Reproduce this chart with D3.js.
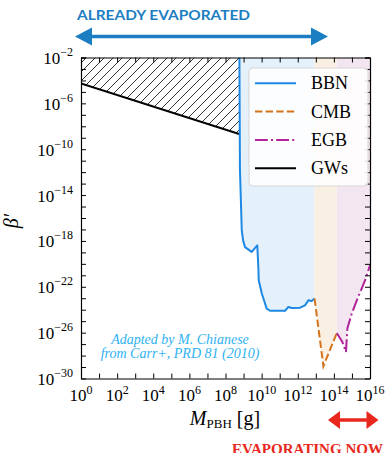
<!DOCTYPE html>
<html>
<head>
<meta charset="utf-8">
<script src="https://cdn.jsdelivr.net/npm/d3@7"></script>
<style>
  body { margin: 0; background: #fff; }
  svg { display: block; }
</style>
</head>
<body>
<svg id="chart" width="387" height="453"></svg>
<script>
// constraint curves, stored as log10 values
const bbnLogM    = [8.77, 8.80, 8.90, 8.97, 9.08, 9.45, 9.76, 9.82, 9.84, 10.01, 10.28, 10.47, 11.02, 11.30, 11.48, 11.67, 12.13, 12.40, 12.59, 12.77, 12.93];
const bbnLogBeta = [-2, -11.8, -17.05, -17.93, -18.54, -18.96, -18.38, -20.39, -21.43, -22.59, -23.90, -24.09, -24.08, -24.09, -23.76, -23.85, -23.82, -23.62, -23.18, -23.24, -23.03];

const cmbLogM    = [12.93, 13.42, 14.16];
const cmbLogBeta = [-23.03, -28.93, -26.03];

const egbLogM    = [14.16, 14.47, 14.67, 14.75, 14.99, 15.27, 15.73, 16.0];
const egbLogBeta = [-26.03, -26.82, -27.69, -25.62, -24.34, -23.18, -21.43, -20.12];

const gwLogM    = [0, 8.80];
const gwLogBeta = [-4.27, -8.69];

const xTickExp = d3.range(0, 17);          // tick every decade
const xLabelExp = d3.range(0, 17, 2);
const yTickExp = d3.range(-30, -1);
const yLabelExp = [-2, -6, -10, -14, -18, -22, -26, -30];

const legendNames = ['BBN', 'CMB', 'EGB', 'GWs'];

const serif = '"Liberation Serif", "Times New Roman", serif';
const colBBN = '#1e88e5', colCMB = '#d4731b', colEGB = '#b0239a';

const svg = d3.select('#chart');
const pL = 81, pT = 57.5, pR = 370, pB = 378.5;

const x = d3.scaleLog().domain([1, 1e16]).range([pL, pR]);
const y = d3.scaleLog().domain([1e-30, 1e-2]).range([pB, pT]);

const pts = (ms, bs) => ms.map((m, i) => [10 ** m, 10 ** bs[i]]);
const bbn = pts(bbnLogM, bbnLogBeta);
const cmb = pts(cmbLogM, cmbLogBeta);
const egb = pts(egbLogM, egbLogBeta);
const gw = pts(gwLogM, gwLogBeta);

const line = d3.line().x(d => x(d[0])).y(d => y(d[1]));
const areaAbove = d3.area().x(d => x(d[0])).y0(y(1e-2)).y1(d => y(d[1]));

// hatch pattern
const defs = svg.append('defs');
const pat = defs.append('pattern')
  .attr('id', 'hatch')
  .attr('patternUnits', 'userSpaceOnUse')
  .attr('width', 9).attr('height', 9);
pat.append('path')
  .attr('d', 'M0,9 L9,0 M-2,2 L2,-2 M7,11 L11,7')
  .attr('stroke', '#000').attr('stroke-width', 0.8);

defs.append('clipPath').attr('id', 'plotclip')
  .append('rect').attr('x', pL).attr('y', pT)
  .attr('width', pR - pL).attr('height', pB - pT);

const plot = svg.append('g').attr('clip-path', 'url(#plotclip)');

// shaded excluded regions
plot.append('path').datum(bbn).attr('d', areaAbove).attr('fill', '#e4f1fb');
plot.append('path').datum(cmb).attr('d', areaAbove).attr('fill', '#f9efe3');
plot.append('path').datum(egb).attr('d', areaAbove).attr('fill', '#f4e6f1');

// hatched GW region
const hatchPoly = [[gw[0][0], 1e-2], [bbn[0][0], 1e-2], gw[1], gw[0]];
plot.append('path').datum(hatchPoly)
  .attr('d', d3.line().x(d => x(d[0])).y(d => y(d[1])).curve(d3.curveLinearClosed))
  .attr('fill', 'url(#hatch)');

plot.append('path').datum(gw).attr('d', line)
  .attr('fill', 'none').attr('stroke', '#000').attr('stroke-width', 2);
plot.append('path').datum(bbn).attr('d', line)
  .attr('fill', 'none').attr('stroke', colBBN).attr('stroke-width', 2).attr('stroke-linejoin', 'round');
plot.append('path').datum(cmb).attr('d', line)
  .attr('fill', 'none').attr('stroke', colCMB).attr('stroke-width', 2).attr('stroke-dasharray', '7.4,3.2');
plot.append('path').datum(egb).attr('d', line)
  .attr('fill', 'none').attr('stroke', colEGB).attr('stroke-width', 2).attr('stroke-dasharray', '12.8,3.2,2,3.2');

// annotation
const note = svg.append('text')
  .attr('font-family', serif).attr('font-style', 'italic').attr('font-size', 14)
  .attr('fill', '#2eb2f2').attr('text-anchor', 'middle');
note.append('tspan').attr('x', 180).attr('y', 344).text('Adapted by M. Chianese');
note.append('tspan').attr('x', 180).attr('y', 358).text('from Carr+, PRD 81 (2010)');

// axes, ticks inward on all four sides
const styleAxis = g => {
  g.select('.domain').attr('stroke', '#000').attr('stroke-width', 1.2);
  g.selectAll('.tick line').attr('stroke', '#000').attr('stroke-width', 1);
  g.selectAll('.tick text').remove();
};
const xVals = xTickExp.map(e => 10 ** e);
const yVals = yTickExp.map(e => 10 ** e).concat([1e-2]);

svg.append('g').attr('transform', `translate(0,${pB})`)
  .call(d3.axisBottom(x).tickValues(xVals).tickSizeInner(-5).tickSizeOuter(0))
  .call(styleAxis);
svg.append('g').attr('transform', `translate(0,${pT})`)
  .call(d3.axisTop(x).tickValues(xVals).tickSizeInner(-5).tickSizeOuter(0))
  .call(styleAxis);
svg.append('g').attr('transform', `translate(${pL},0)`)
  .call(d3.axisLeft(y).tickValues(yVals).tickSizeInner(-5).tickSizeOuter(0))
  .call(styleAxis);
svg.append('g').attr('transform', `translate(${pR},0)`)
  .call(d3.axisRight(y).tickValues(yVals).tickSizeInner(-5).tickSizeOuter(0))
  .call(styleAxis);

// tick labels 10^n
const pow10 = (sel, e, supDy) => {
  sel.append('tspan').text('10');
  sel.append('tspan').attr('font-size', 12).attr('dy', supDy)
    .text(e < 0 ? '\u2212' + (-e) : e);
};
xLabelExp.forEach(e => {
  const t = svg.append('text').attr('font-family', serif).attr('font-size', 17)
    .attr('text-anchor', 'middle').attr('x', x(10 ** e)).attr('y', 401);
  pow10(t, e, -7);
});
yLabelExp.forEach(e => {
  const t = svg.append('text').attr('font-family', serif).attr('font-size', 17)
    .attr('text-anchor', 'end').attr('x', 73).attr('y', y(10 ** e) + 6.5);
  pow10(t, e, -8);
});

// axis titles
const xt = svg.append('text').attr('font-family', serif).attr('font-size', 20)
  .attr('text-anchor', 'middle').attr('x', 225).attr('y', 425);
xt.append('tspan').attr('font-style', 'italic').text('M');
xt.append('tspan').attr('font-size', 13).attr('dy', 3).text('PBH');
xt.append('tspan').attr('dy', -3).text(' [g]');

svg.append('text').attr('font-family', serif).attr('font-size', 20).attr('font-style', 'italic')
  .attr('text-anchor', 'middle')
  .attr('transform', 'translate(18,221) rotate(-90)')
  .text('\u03b2\u2032');

// legend
const lg = svg.append('g');
lg.append('rect').attr('x', 249).attr('y', 68).attr('width', 119).attr('height', 118)
  .attr('rx', 4).attr('fill', '#fff').attr('fill-opacity', 0.85)
  .attr('stroke', '#d6d6d6').attr('stroke-width', 1);
const legStyle = [
  { c: colBBN, dash: null },
  { c: colCMB, dash: '7.4,3.2' },
  { c: colEGB, dash: '12.8,3.2,2,3.2' },
  { c: '#000', dash: null }
];
legendNames.forEach((n, i) => {
  const cy = 83.3 + i * 28.3;
  lg.append('line').attr('x1', 255).attr('x2', 296).attr('y1', cy).attr('y2', cy)
    .attr('stroke', legStyle[i].c).attr('stroke-width', 2)
    .attr('stroke-dasharray', legStyle[i].dash);
  lg.append('text').attr('x', 311).attr('y', cy + 6)
    .attr('font-family', serif).attr('font-size', 18).text(n);
});

// arrows and banners
const blue = '#1b7ec2', red = '#e8281e';
const arrow = (x1, x2, yy, head, h, w, col) => {
  svg.append('line').attr('x1', x1 + head - 1).attr('x2', x2 - head + 1)
    .attr('y1', yy).attr('y2', yy).attr('stroke', col).attr('stroke-width', w);
  svg.append('path').attr('fill', col)
    .attr('d', `M${x1},${yy} L${x1 + head},${yy - h / 2} L${x1 + head},${yy + h / 2} Z`);
  svg.append('path').attr('fill', col)
    .attr('d', `M${x2},${yy} L${x2 - head},${yy - h / 2} L${x2 - head},${yy + h / 2} Z`);
};
arrow(75, 328, 36.5, 17, 18, 3.5, blue);
arrow(328, 378.5, 420, 12, 18, 3.5, red);

svg.append('text').attr('x', 77).attr('y', 19.5)
  .attr('font-family', 'Lato, "Open Sans", sans-serif').attr('font-weight', 700)
  .attr('font-size', 14).attr('fill', blue)
  .attr('textLength', 173).attr('lengthAdjust', 'spacingAndGlyphs')
  .text('ALREADY EVAPORATED');

svg.append('text').attr('x', 232).attr('y', 454)
  .attr('font-family', serif).attr('font-weight', 700)
  .attr('font-size', 15).attr('fill', red)
  .attr('textLength', 151).attr('lengthAdjust', 'spacingAndGlyphs')
  .text('EVAPORATING NOW');
</script>
</body>
</html>
